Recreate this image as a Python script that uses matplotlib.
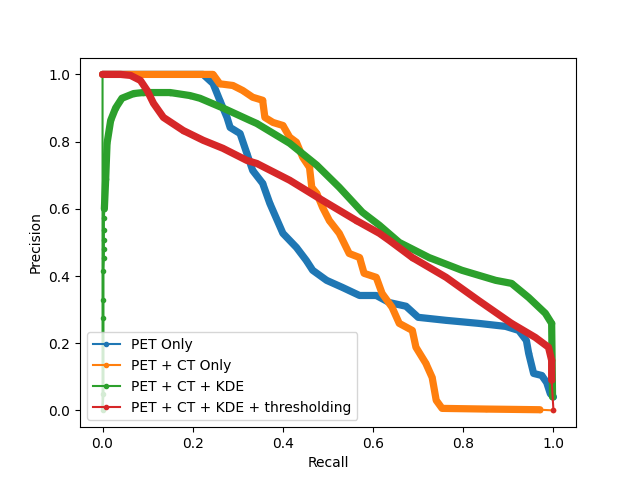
import matplotlib
matplotlib.use("Agg")
import matplotlib.pyplot as plt

# recall / precision
pet_r = [0.0, 0.10, 0.223, 0.245, 0.26, 0.276, 0.283, 0.305, 0.32, 0.333, 0.355, 0.371,
         0.40, 0.43, 0.452, 0.466, 0.497, 0.532, 0.57, 0.607, 0.636, 0.673, 0.70, 0.762,
         0.834, 0.894, 0.923, 0.94, 0.945, 0.956, 0.974, 0.985, 0.993, 1.0]
pet_p = [1.0, 1.0, 1.0, 0.973, 0.923, 0.872, 0.842, 0.824, 0.765, 0.714, 0.676, 0.616,
         0.527, 0.485, 0.446, 0.417, 0.387, 0.366, 0.342, 0.342, 0.321, 0.31, 0.277, 0.268,
         0.259, 0.25, 0.238, 0.208, 0.17, 0.11, 0.104, 0.083, 0.05, 0.04]

ct_r = [0.0, 0.245, 0.26, 0.289, 0.311, 0.333, 0.355, 0.36, 0.378, 0.40, 0.415, 0.43,
        0.444, 0.459, 0.464, 0.475, 0.488, 0.503, 0.525, 0.547, 0.57, 0.58, 0.607, 0.62,
        0.642, 0.658, 0.687, 0.695, 0.717, 0.731, 0.74, 0.753, 0.85, 0.97, 1.0]
ct_p = [1.0, 1.0, 0.972, 0.967, 0.952, 0.932, 0.923, 0.872, 0.857, 0.848, 0.813, 0.798,
        0.753, 0.723, 0.664, 0.646, 0.604, 0.565, 0.527, 0.467, 0.455, 0.408, 0.396, 0.348,
        0.307, 0.259, 0.238, 0.188, 0.14, 0.098, 0.03, 0.006, 0.004, 0.002, 0.0]

kde_r = [0.0, 0.0, 0.002, 0.002, 0.002, 0.002, 0.003, 0.003, 0.003, 0.003, 0.003, 0.004,
         0.007, 0.010, 0.018, 0.029, 0.043, 0.069, 0.09, 0.15, 0.194, 0.216, 0.267, 0.327,
         0.342, 0.415, 0.475, 0.525, 0.576, 0.614, 0.658, 0.724, 0.797, 0.872, 0.907, 0.945,
         0.982, 0.996, 0.998]
kde_p = [1.0, 0.0, 0.05, 0.274, 0.33, 0.414, 0.455, 0.479, 0.506, 0.536, 0.574, 0.60,
         0.69, 0.795, 0.863, 0.90, 0.929, 0.943, 0.946, 0.946, 0.937, 0.929, 0.90, 0.863,
         0.854, 0.795, 0.73, 0.664, 0.59, 0.551, 0.50, 0.455, 0.417, 0.387, 0.378, 0.336,
         0.289, 0.259, 0.04]

thr_r = [0.0, 0.04, 0.062, 0.084, 0.099, 0.113, 0.135, 0.179, 0.223, 0.267, 0.32, 0.342,
         0.415, 0.488, 0.563, 0.614, 0.636, 0.687, 0.762, 0.834, 0.907, 0.96, 0.989, 0.996,
         0.996, 1.0]
thr_p = [1.0, 1.0, 0.997, 0.982, 0.952, 0.914, 0.872, 0.833, 0.804, 0.78, 0.744, 0.735,
         0.685, 0.625, 0.565, 0.527, 0.506, 0.455, 0.396, 0.327, 0.259, 0.217, 0.188, 0.149,
         0.09, 0.0]

series = [
    ("PET Only", pet_r, pet_p, "#1f77b4", 0, len(pet_r)),
    ("PET + CT Only", ct_r, ct_p, "#ff7f0e", 0, len(ct_r) - 1),
    ("PET + CT + KDE", kde_r, kde_p, "#2ca02c", 11, len(kde_r)),
    ("PET + CT + KDE + thresholding", thr_r, thr_p, "#d62728", 0, len(thr_r) - 1),
]

fig, ax = plt.subplots(figsize=(6.4, 4.8), dpi=100)
for name, r, p, c, i0, i1 in series:
    # dense part of the curve looks like a thick band
    ax.plot(r[i0:i1], p[i0:i1], color=c, lw=5.2, solid_joinstyle="round",
            solid_capstyle="round")
    ax.plot(r, p, ".-", color=c, label=name)

ax.set_xlabel("Recall")
ax.set_ylabel("Precision")
ax.legend(loc="lower left")
fig.savefig("out.png")
